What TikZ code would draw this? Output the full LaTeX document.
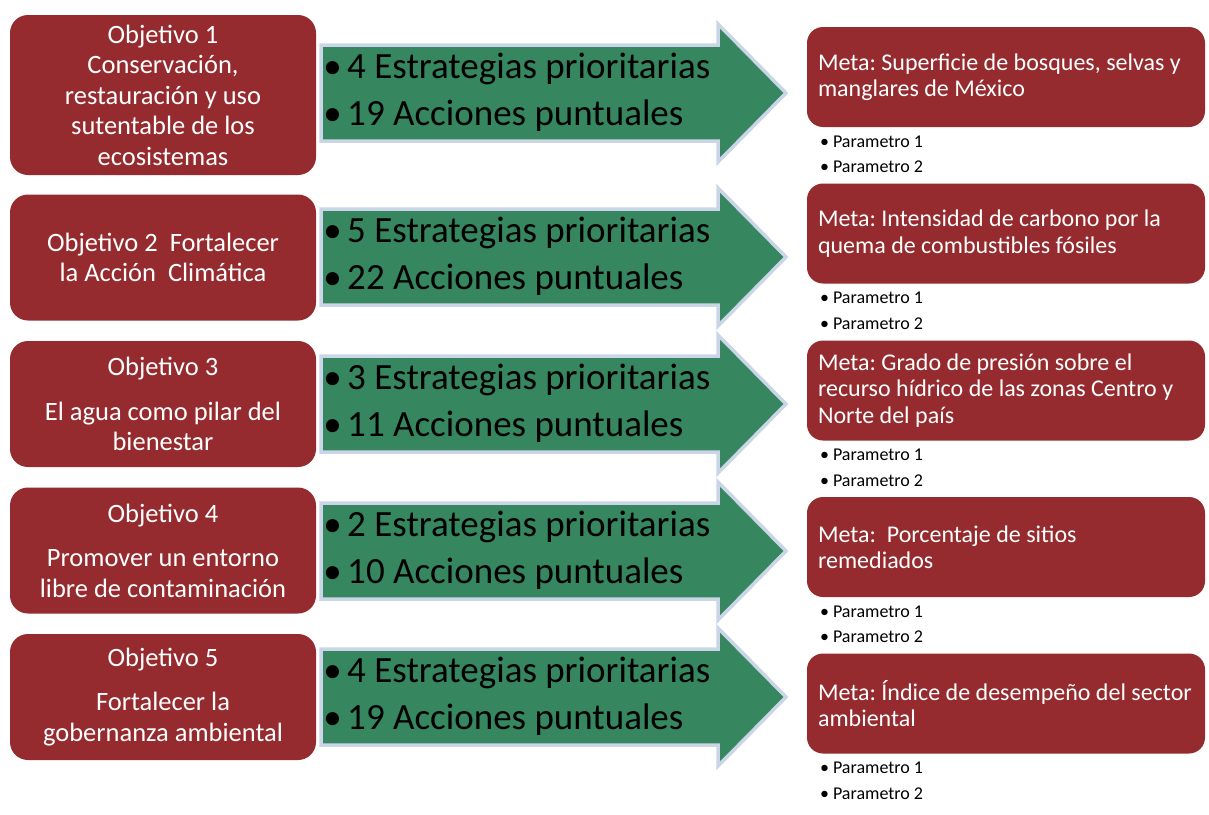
\documentclass[tikz,border=0pt]{standalone}
\usepackage{fontspec}
\setmainfont{Carlito}
\usepackage{tikz}
\usetikzlibrary{positioning,calc}
\definecolor{rojoObj}{RGB}{149,43,46}
\definecolor{verdeFlecha}{RGB}{54,134,96}
\definecolor{bordeFlecha}{RGB}{202,213,231}
\tikzset{
  every picture/.append style={line width=0.6pt},
}

\begin{document}
\frenchspacing
\begin{tikzpicture}[
  x=1pt, y=-1pt,
  objetivo/.style={rectangle, fill=rojoObj, rounded corners=18pt, text=white, align=center, inner sep=0pt, minimum width=306pt, minimum height=126pt, font=\fontsize{26.5}{30.5}\selectfont},
  meta/.style={rectangle, fill=rojoObj, rounded corners=16pt, text=white, align=flush left, inner xsep=11pt, inner ysep=0pt, text width=376pt, minimum height=100pt, font=\fontsize{24}{26.5}\selectfont},
  flecha/.style={fill=verdeFlecha, draw=bordeFlecha, line width=3.5pt, line join=miter},
  lista/.style={anchor=west, align=left, inner sep=0pt, font=\fontsize{37}{47}\selectfont},
  parametros/.style={align=left, inner sep=0pt, font=\fontsize{18}{25.5}\selectfont}
]
\useasboundingbox (0,0) rectangle (1209,814);

% Objetivos
\node[objetivo, minimum height=160pt] (obj1) at (163,95) {Objetivo 1\\Conservación,\\restauración y uso\\sutentable de los\\ecosistemas};
\node[objetivo] (obj2) at (163,257.5) {Objetivo 2~ Fortalecer\\la Acción~ Climática};
\node[objetivo] (obj3) at (163,404) {Objetivo 3\\[14pt]El agua como pilar del\\bienestar};
\node[objetivo] (obj4) at (163,550.5) {Objetivo 4\\[14pt]Promover un entorno\\libre de contaminación};
\node[objetivo] (obj5) at (163,697) {Objetivo 5\\[14pt]Fortalecer la\\gobernanza ambiental};

% Flechas con estrategias y acciones
\foreach \n/\cy/\ne/\na in {1/93/4/19, 2/257/5/22, 3/404/3/11, 4/551/2/10, 5/697/4/19}{
  \draw[flecha] (321,\cy-48) -- (718,\cy-48) -- (718,\cy-69) -- (786,\cy)
    -- (718,\cy+69) -- (718,\cy+48) -- (321,\cy+48) -- cycle;
  \node[lista] (flecha\n) at (323,\cy-1) {•\hspace{0.15em}\ne{} Estrategias prioritarias\\•\hspace{0.15em}\na{} Acciones puntuales};
}

% Metas
\node[meta] (meta1) at (1006,77) {Meta: Superficie de bosques, selvas y\\manglares de México};
\node[meta] (meta2) at (1006,233.5) {Meta: Intensidad de carbono por la\\quema de combustibles fósiles};
\node[meta] (meta3) at (1006,390.5) {Meta: Grado de presión sobre el\\recurso hídrico de las zonas Centro y\\Norte del país};
\node[meta] (meta4) at (1006,547) {Meta:~ Porcentaje de sitios\\remediados};
\node[meta] (meta5) at (1006,703.5) {Meta: Índice de desempeño del sector\\ambiental};

% Parametros de cada meta
\foreach \n in {1,...,5}{
  \node[parametros, below right=8pt and 13pt of meta\n.south west] (par\n) {• Parametro 1\\• Parametro 2};
}

\end{tikzpicture}
\end{document}
